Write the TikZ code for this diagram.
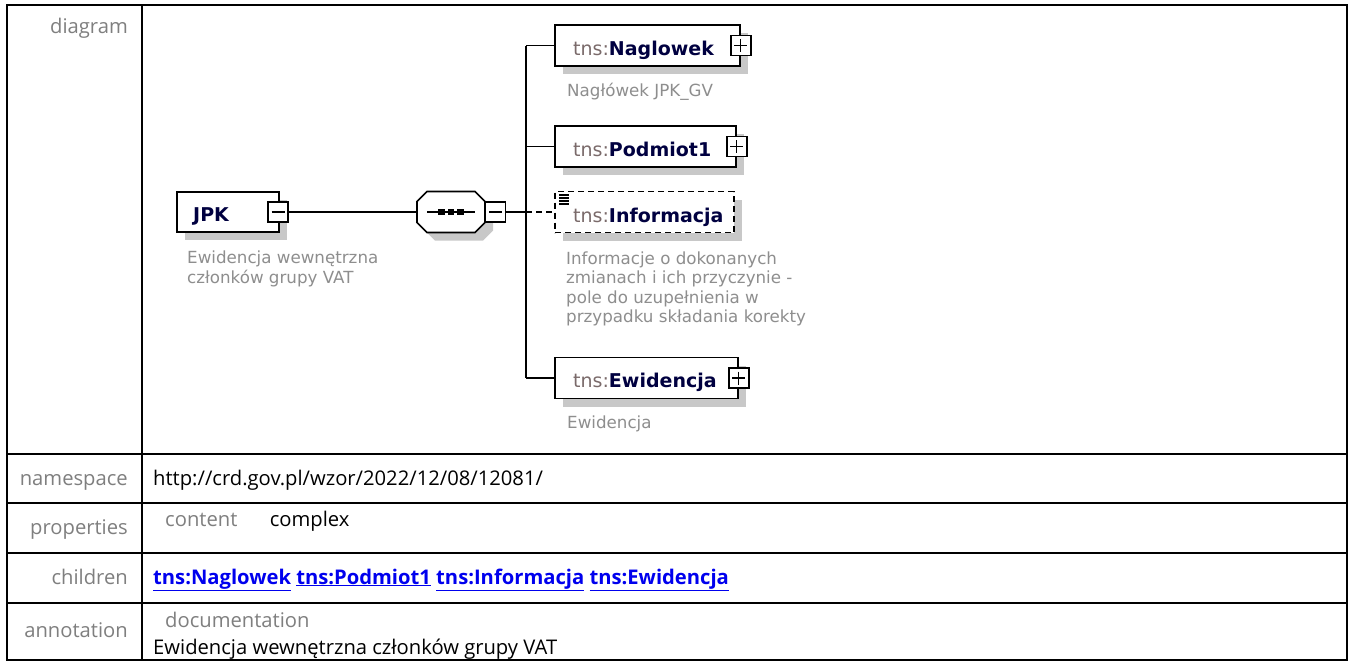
\documentclass[tikz,border=0pt]{standalone}
\usepackage{fontspec}
\setmainfont{Open Sans}
\newfontfamily\dgfont{DejaVu Sans}
\usetikzlibrary{shadows}
\definecolor{shadowgray}{HTML}{C8C8C8}
\definecolor{descgray}{HTML}{8E8E8E}
\definecolor{prefixgray}{HTML}{7A6A6A}
\definecolor{namenavy}{HTML}{000040}
\definecolor{labelgray}{HTML}{7F7F7F}
\definecolor{linkblue}{HTML}{0000EE}
\newcommand\tblfont{\fontsize{20.2}{24}\selectfont}
\newcommand\dgname{\dgfont\fontsize{19}{23}\selectfont}
\newcommand\dgdesc{\dgfont\fontsize{16.7}{20}\selectfont}
\newcommand\elname[1]{{\color{prefixgray}tns:}{\bfseries\color{namenavy}#1}}
\begin{document}
\begin{tikzpicture}[x=1pt,y=-1pt,
  tblline/.style={line width=2pt},
  lbl/.style={anchor=base east, inner sep=0pt, text=labelgray, font=\tblfont},
  val/.style={anchor=base west, inner sep=0pt, text=black, font=\tblfont},
  shad/.style={drop shadow={shadow xshift=8pt, shadow yshift=-8pt, fill=shadowgray, opacity=1}},
  elbox/.style={draw, line width=1.6pt, fill=white, inner sep=0pt, shad},
  pmbox/.style={draw, line width=1.4pt, fill=white, minimum size=20, inner sep=0pt},
  minus/.style={pmbox, path picture={\draw[line width=1.3pt]
     ([xshift=3.5pt]path picture bounding box.west) -- ([xshift=-3.5pt]path picture bounding box.east);}},
  plus/.style={pmbox, path picture={\draw[line width=1.3pt]
     ([xshift=3.5pt]path picture bounding box.west) -- ([xshift=-3.5pt]path picture bounding box.east)
     ([yshift=-3.5pt]path picture bounding box.north) -- ([yshift=3.5pt]path picture bounding box.south);}},
  nm/.style={anchor=base west, inner sep=0pt, font=\dgname},
  desc/.style={anchor=base west, inner sep=0pt, text=descgray, font=\dgdesc},
  conn/.style={line width=1.6pt},
  optconn/.style={line width=1.6pt, dash pattern=on 6pt off 4pt}
]
\useasboundingbox (0,0) rectangle (1349,662);
\fill[white] (0,0) rectangle (1349,662);

% table
\draw[tblline] (7,5) rectangle (1347,660);
\draw[tblline] (142,5) -- (142,660);
\foreach \yy in {454,503,553,603} \draw[tblline] (7,\yy) -- (1347,\yy);

\node[lbl] (ldiag) at (128,33) {diagram};
\node[lbl] (lns) at (128,485) {namespace};
\node[val] (vns) at (153,485) {http://crd.gov.pl/wzor/2022/12/08/12081/};
\node[lbl] (lprop) at (128,534) {properties};
\node[val, text=labelgray] (vct) at (165,526) {content};
\node[val] (vcx) at ([xshift=32pt]vct.base east) {complex};
\node[lbl] (lch) at (128,584) {children};
\node[val, text=linkblue, font=\tblfont\bfseries] (vch) at (153,584)
  {\underline{tns:Naglowek} \underline{tns:Podmiot1} \underline{tns:Informacja} \underline{tns:Ewidencja}};
\node[lbl] (lann) at (128,637) {annotation};
\node[val, text=labelgray] (vdoc) at (165,627) {documentation};
\node[val] (vann) at (153,654) {Ewidencja wewnętrzna członków grupy VAT};

% diagram: root
\node[elbox, minimum width=102, minimum height=40] (jpk) at (228,212) {};
\node[nm] (jpkt) at (193,221) {\bfseries\color{namenavy}JPK};
\node[minus] (jpkpm) at (278,212) {};
\node[desc] (jd1) at (187,263.5) {Ewidencja wewnętrzna};
\node[desc] (jd2) at (187,283) {członków grupy VAT};

% sequence compositor (chamfered octagon)
\node[inner sep=0pt, minimum width=68, minimum height=41] (seq) at (451,212) {};
\begin{scope}[shift={(seq.center)}]
  \fill[shadowgray, shift={(8,8)}] (-34,-10.5) -- (-24,-20.5) -- (24,-20.5) -- (34,-10.5)
     -- (34,10.5) -- (24,20.5) -- (-24,20.5) -- (-34,10.5) -- cycle;
  \draw[line width=1.6pt, fill=white] (-34,-10.5) -- (-24,-20.5) -- (24,-20.5) -- (34,-10.5)
     -- (34,10.5) -- (24,20.5) -- (-24,20.5) -- (-34,10.5) -- cycle;
  \draw[line width=1.5pt] (-24,0) -- (24,0);
  \foreach \dx in {-9.5,0,9.5}
    \fill (\dx-3.3,-3.3) rectangle (\dx+3.3,3.3);
\end{scope}
\node[minus] (seqpm) at (495.5,212) {};

% bus
\coordinate (bt) at (526,45.5);
\coordinate (bp) at (526,146.5);
\coordinate (bm) at (526,212);
\coordinate (bb) at (526,378);

% children
\node[elbox, minimum width=185, minimum height=41] (nag) at (647.5,45.5) {};
\node[plus] (nagpm) at (nag.east) {};
\node[nm] (nagt) at (573,55) {\elname{Naglowek}};
\node[desc] (nagd) at (567,96) {Nagłówek JPK\_GV};

\node[elbox, minimum width=181, minimum height=41] (pod) at (645.5,146.5) {};
\node[plus] (podpm) at (pod.east) {};
\node[nm] (podt) at (573,156) {\elname{Podmiot1}};

\node[elbox, dash pattern=on 6pt off 4pt, minimum width=179, minimum height=41] (inf) at (644.5,212) {};
\fill[white] (556.5,193) rectangle (571,206);
\foreach \yy in {195,198,201,204} \draw[line width=1.1pt] (559,\yy) -- (569,\yy);
\node[nm] (inft) at (573,222) {\elname{Informacja}};
\node[desc] (infd1) at (566,264) {Informacje o dokonanych};
\node[desc] (infd2) at (566,283.5) {zmianach i ich przyczynie -};
\node[desc] (infd3) at (566,303) {pole do uzupełnienia w};
\node[desc] (infd4) at (566,322.5) {przypadku składania korekty};

\node[elbox, minimum width=183, minimum height=41] (ewi) at (646.5,378) {};
\node[plus] (ewipm) at (ewi.east) {};
\node[nm] (ewit) at (573,387.5) {\elname{Ewidencja}};
\node[desc] (ewid) at (567,428) {Ewidencja};

% connectors
\draw[conn] (jpkpm) -- (seq);
\draw[conn] (seqpm) -- (bm);
\draw[conn] (bt) -- (bb);
\draw[conn] (bt) -- (nag);
\draw[conn] (bp) -- (pod);
\draw[optconn] (bm) -- (inf);
\draw[conn] (bb) -- (ewi);
\end{tikzpicture}
\end{document}
